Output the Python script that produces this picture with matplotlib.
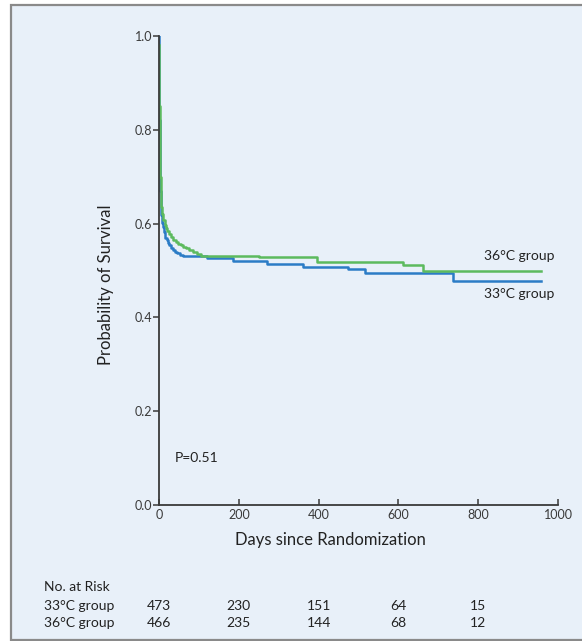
import matplotlib.pyplot as plt
from matplotlib.patches import Rectangle

# Kaplan-Meier curves (day, survival)
days_33 = [0, 0.5, 1, 1.5, 2, 2.5, 3, 4, 5, 6, 7, 8, 10, 12, 14, 16, 19, 22, 25, 30, 36, 40, 45,
           52, 60, 120, 185, 270, 361, 474, 516, 737, 957]
surv_33 = [1.0, 0.90, 0.82, 0.76, 0.72, 0.69, 0.67, 0.645, 0.63, 0.618, 0.61, 0.602, 0.592,
           0.583, 0.576, 0.570, 0.565, 0.559, 0.555, 0.549, 0.544, 0.540, 0.537, 0.533, 0.530,
           0.527, 0.521, 0.514, 0.508, 0.503, 0.495, 0.478, 0.478]

days_36 = [0, 0.5, 1, 1.5, 2, 2.5, 3, 4, 5, 6, 8, 10, 11, 14, 18, 21, 25, 30, 36, 42, 48, 54,
           60, 67, 75, 84, 94, 105, 250, 395, 612, 662, 957]
surv_36 = [0.98, 0.92, 0.85, 0.80, 0.76, 0.73, 0.70, 0.67, 0.65, 0.635, 0.62, 0.612, 0.608,
           0.598, 0.59, 0.584, 0.578, 0.571, 0.565, 0.561, 0.557, 0.554, 0.551, 0.547, 0.543,
           0.540, 0.536, 0.531, 0.528, 0.519, 0.512, 0.499, 0.499]

risk_days = [0, 200, 400, 600, 800]
risk_33 = [473, 230, 151, 64, 15]
risk_36 = [466, 235, 144, 68, 12]

yticks = [0.0, 0.2, 0.4, 0.6, 0.8, 1.0]
xticks = [0, 200, 400, 600, 800, 1000]

bg = '#e8f0f9'
blue = '#2b7cc6'
green = '#5cba5e'
dark = '#3a3a3a'
txt = '#222222'

plt.rcParams['font.family'] = ['Lato', 'DejaVu Sans']

fig = plt.figure(figsize=(5.82, 6.41), dpi=100)
fig.patch.set_facecolor('white')
# panel background with grey frame (right edge runs off the picture)
fig.patches.append(Rectangle((11 / 582, 0.002), 1.1, 1 - 5 / 641 - 0.002, transform=fig.transFigure,
                             facecolor=bg, edgecolor='#8a8a8a', linewidth=1.6, zorder=-10))

ax = fig.add_axes([159 / 582, 136 / 641, 399 / 582, 469 / 641])
ax.set_facecolor('none')

ax.step(days_33, surv_33, where='post', color=blue, lw=1.8)
ax.step(days_36, surv_36, where='post', color=green, lw=1.8)

ax.set_xlim(0, 1000)
ax.set_ylim(0, 1.0)
ax.set_xticks(xticks)
ax.set_yticks(yticks)
ax.set_xticklabels([str(t) for t in xticks])
ax.set_yticklabels(['%.1f' % t for t in yticks])
for s in ['top', 'right']:
    ax.spines[s].set_visible(False)
for s in ['left', 'bottom']:
    ax.spines[s].set_color(dark)
    ax.spines[s].set_linewidth(1.3)
ax.tick_params(axis='x', direction='in', length=4, width=1.1, colors=dark, labelsize=9, pad=3)
ax.tick_params(axis='y', direction='out', length=4, width=1.1, colors=dark, labelsize=9, pad=1)

ax.set_ylabel('Probability of Survival', fontsize=12, color=txt)
ax.yaxis.set_label_coords(-0.113, 0.47)
ax.text(0.43, -0.058, 'Days since Randomization', transform=ax.transAxes, fontsize=12,
        color=txt, ha='center', va='top')

ax.text(992, 0.518, '36°C group', fontsize=10, color=txt, ha='right', va='bottom')
ax.text(992, 0.438, '33°C group', fontsize=10, color=txt, ha='right', va='bottom')
ax.text(40, 0.10, 'P=0.51', fontsize=10, color=txt, ha='left', va='center')

# numbers at risk
tr = ax.get_xaxis_transform()
fig.text(44 / 582, 1 - 587 / 641, 'No. at Risk', fontsize=10, color=txt, va='center')
fig.text(44 / 582, 1 - 606 / 641, '33°C group', fontsize=10, color=txt, va='center')
fig.text(44 / 582, 1 - 623 / 641, '36°C group', fontsize=10, color=txt, va='center')
y33 = -(606 - 505) / 469
y36 = -(623 - 505) / 469
for d, a, b in zip(risk_days, risk_33, risk_36):
    ax.text(d, y33, str(a), transform=tr, fontsize=10, color=txt, ha='center', va='center')
    ax.text(d, y36, str(b), transform=tr, fontsize=10, color=txt, ha='center', va='center')

fig.savefig('out.png', dpi=100)
